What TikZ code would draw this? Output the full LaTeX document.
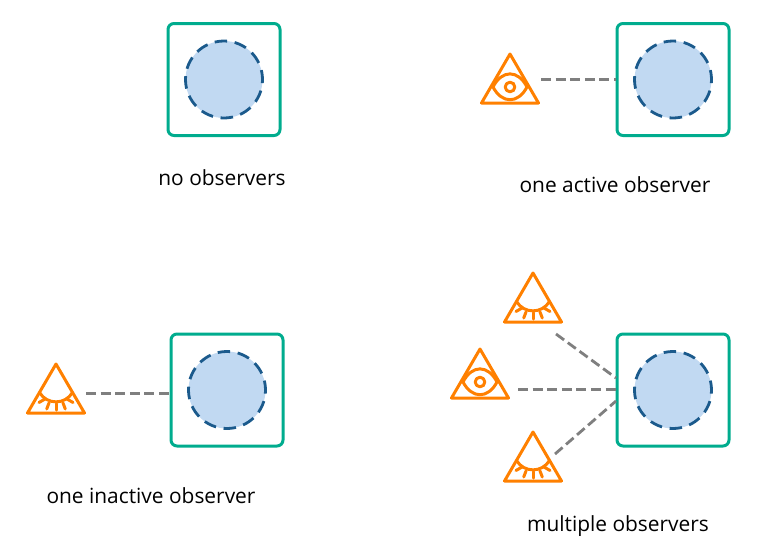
\documentclass[tikz,border=0pt]{standalone}
\usepackage{fontspec}
\setmainfont{Open Sans}
\usepackage{tikz}
\usetikzlibrary{positioning}
\definecolor{tealline}{HTML}{00AC8E}
\definecolor{circfill}{HTML}{C1D9F2}
\definecolor{circline}{HTML}{1B5A8C}
\definecolor{eyeorange}{HTML}{FF8000}
\definecolor{linkgray}{HTML}{7F7F7F}
\tikzset{
    objbox/.style={draw=tealline,line width=3pt,rounded corners=6pt,minimum size=112pt,inner sep=0pt},
    objcirc/.style={circle,draw=circline,fill=circfill,line width=2.8pt,minimum size=77pt,inner sep=0pt,dash pattern=on 12.5pt off 7.6pt,dash phase=3pt},
    link/.style={draw=linkgray,line width=2.8pt,dash pattern=on 10pt off 4.6pt},
    caption/.style={font=\fontsize{20.9pt}{24pt}\selectfont,text=black,inner sep=0pt},
    eyeline/.style={draw=eyeorange,line width=3pt,line join=round,line cap=round},
    pics/triangle/.style={code={
        \draw[eyeline] (0,0) -- (-28.5,49) -- (28.5,49) -- cycle;
    }},
    pics/openeye/.style={code={
        \pic {triangle};
        \draw[eyeline] (-17,33) .. controls (-8,15.5) and (8,15.5) .. (17,33) .. controls (8,50) and (-8,50) .. (-17,33) -- cycle;
        \draw[eyeline] (0,33) circle (4.8);
    }},
    pics/closedeye/.style={code={
        \pic {triangle};
        \draw[eyeline] (-16.5,28.5) .. controls (-9,41) and (9,41) .. (16.5,28.5);
        \draw[eyeline] (0,39.5) -- (0,46);
        \draw[eyeline] (-7,39) -- (-9.3,45);
        \draw[eyeline] (7,39) -- (9.3,45);
        \draw[eyeline] (-11,35) -- (-17,38.5);
        \draw[eyeline] (11,35) -- (17,38.5);
    }},
}
\begin{document}
\begin{tikzpicture}[x=1pt,y=-1pt]
    \useasboundingbox (0,0) rectangle (762,555);
    % no observers
    \node[objbox] (box1) at (224,79.5) {};
    \node[objcirc] (circ1) at (224,79.5) {};
    \node[caption] (cap1) at (222,178) {no observers};
    % one active observer
    \node[objbox] (box2) at (673,79.5) {};
    \node[objcirc] (circ2) at (673,79.5) {};
    \pic at (510,54) {openeye};
    \coordinate (obs2) at (541,79.5);
    \draw[link] (obs2) -- (box2.west);
    \node[caption] (cap2) at (615,185) {one active observer};
    % one inactive observer
    \node[objbox] (box3) at (227,390) {};
    \node[objcirc] (circ3) at (227,390) {};
    \pic at (56,364) {closedeye};
    \coordinate (obs3) at (86,393.5);
    \coordinate (end3) at (170,393.5);
    \draw[link] (obs3) -- (end3);
    \node[caption] (cap3) at (151,496) {one inactive observer};
    % multiple observers
    \node[objbox] (box4) at (673,390) {};
    \node[objcirc] (circ4) at (673,390) {};
    \pic at (533,273) {closedeye};
    \pic at (480,349) {openeye};
    \pic at (533,432) {closedeye};
    \coordinate (obs4a) at (556,334);
    \coordinate (obs4b) at (518,389.5);
    \coordinate (obs4c) at (555,454);
    \coordinate (end4a) at (616,378);
    \coordinate (end4b) at (616,389.5);
    \coordinate (end4c) at (616,401);
    \draw[link] (obs4a) -- (end4a);
    \draw[link] (obs4b) -- (end4b);
    \draw[link] (obs4c) -- (end4c);
    \node[caption] (cap4) at (618,526) {multiple observers};
\end{tikzpicture}
\end{document}
